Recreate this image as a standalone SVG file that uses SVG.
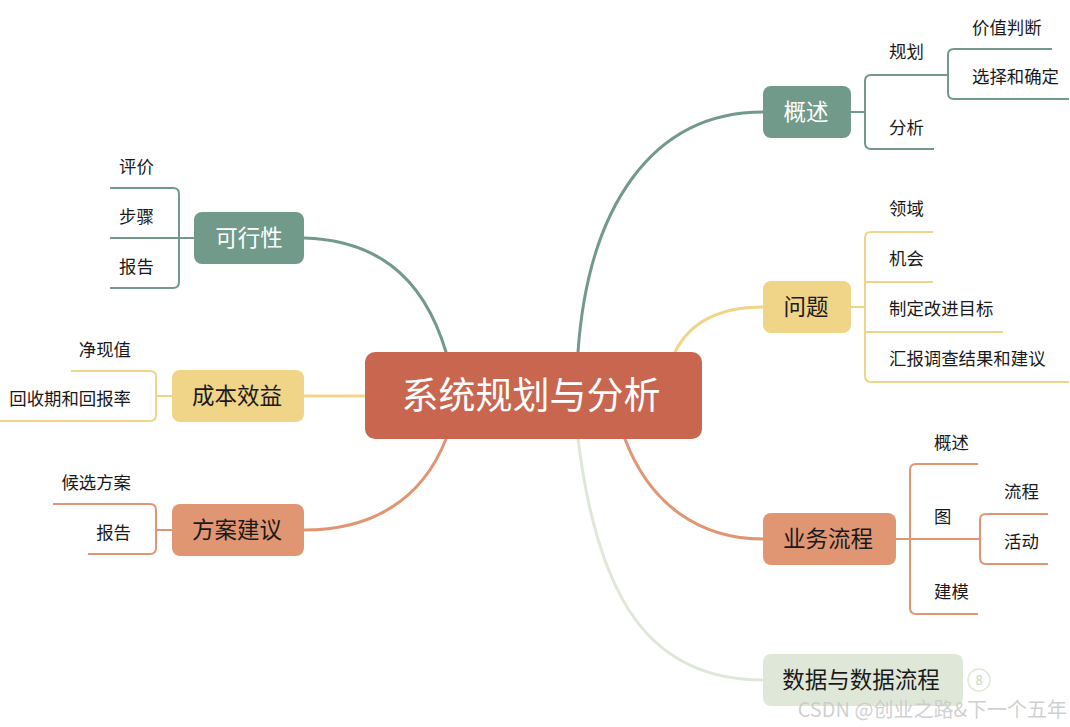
<svg xmlns="http://www.w3.org/2000/svg" width="1070" height="727" viewBox="0 0 1070 727">
<style>
text{font-family:"Noto Sans CJK SC","Noto Sans",sans-serif;}
.t{font-size:17.4px;fill:#1a1a1a;dominant-baseline:central;}
.n{font-size:22.5px;text-anchor:middle;dominant-baseline:central;}
.w{fill:#ffffff;}
.k{fill:#1a1a1a;}
.c{fill:none;stroke-width:3;stroke-linecap:round;}
.b{fill:none;stroke-width:2;}
.g{stroke:#729A8B;}
.y{stroke:#F0D488;}
.o{stroke:#E19673;}
.l{stroke:#DFE8D8;}
</style>
<rect width="1070" height="727" fill="#ffffff"/>
<g id="connectors">
<path class="c g" d="M578,352 C588,210 650,112 763,112"/>
<path class="c y" d="M675,352 C690,322 720,307 763,307"/>
<path class="c o" d="M625,439 C650,505 700,539 763,539"/>
<path class="c l" d="M578,439 C598,600 650,680 763,680"/>
<path class="c g" d="M446,352 C422,272 372,240 304,238"/>
<path class="c y" d="M304,396 L365,396"/>
<path class="c o" d="M446,439 C422,500 372,530 304,530"/>
<path class="b g" d="M851,112 H865"/>
<path class="b g" d="M934,149 H871 Q865,149 865,143 V81 Q865,75 871,75 H948"/>
<path class="b g" d="M1052,49 H954 Q948,49 948,55 V93 Q948,99 954,99 H1069"/>
<path class="b y" d="M851,307 H865"/>
<path class="b y" d="M933,232 H871 Q865,232 865,238 V376 Q865,382 871,382 H1069"/>
<path class="b y" d="M865,282 H933"/>
<path class="b y" d="M865,332 H1003"/>
<path class="b o" d="M896,539 H980"/>
<path class="b o" d="M978,464 H916 Q910,464 910,470 V608 Q910,614 916,614 H978"/>
<path class="b o" d="M1048,514 H986 Q980,514 980,520 V558 Q980,564 986,564 H1048"/>
<path class="b g" d="M110,238 H194"/>
<path class="b g" d="M110,188 H173 Q179,188 179,194 V282 Q179,288 173,288 H110"/>
<path class="b y" d="M156,396 H172"/>
<path class="b y" d="M71,371 H150 Q156,371 156,377 V415 Q156,421 150,421 H0"/>
<path class="b o" d="M156,530 H172"/>
<path class="b o" d="M53,504 H150 Q156,504 156,510 V548 Q156,554 150,554 H88"/>
</g>
<g id="root">
<rect x="365" y="352" width="337" height="87" rx="10" fill="#C8664F"/>
<text x="531" y="393" class="n w" style="font-size:37px">系统规划与分析</text>
</g>
<g id="n-gaishu">
<rect x="763" y="86" width="88" height="52" rx="8" fill="#729A8B"/>
<text x="806" y="110" class="n w">概述</text>
<text x="889" y="50" class="t">规划</text>
<text x="972" y="26" class="t">价值判断</text>
<text x="972" y="75" class="t">选择和确定</text>
<text x="889" y="126" class="t">分析</text>
</g>
<g id="n-wenti">
<rect x="763" y="281" width="88" height="52" rx="8" fill="#F0D488"/>
<text x="806" y="305" class="n k">问题</text>
<text x="889" y="207" class="t">领域</text>
<text x="889" y="257" class="t">机会</text>
<text x="889" y="307" class="t">制定改进目标</text>
<text x="889" y="357" class="t">汇报调查结果和建议</text>
</g>
<g id="n-yewu">
<rect x="763" y="513" width="133" height="52" rx="8" fill="#E19673"/>
<text x="828" y="537" class="n k">业务流程</text>
<text x="934" y="441" class="t">概述</text>
<text x="934" y="515" class="t">图</text>
<text x="1004" y="490" class="t">流程</text>
<text x="1004" y="540" class="t">活动</text>
<text x="934" y="590" class="t">建模</text>
</g>
<g id="n-shuju">
<rect x="763" y="654" width="200" height="52" rx="8" fill="#DFE8D8"/>
<text x="861" y="678" class="n k">数据与数据流程</text>
<circle cx="979" cy="680" r="11" fill="none" stroke="#DFE8D8" stroke-width="1.5"/>
<text x="979" y="679" class="n" style="font-size:13px;fill:#C9D8C4">8</text>
</g>
<g id="n-kexing">
<rect x="194" y="212" width="110" height="52" rx="8" fill="#729A8B"/>
<text x="249" y="236" class="n w">可行性</text>
<text x="119" y="165" class="t">评价</text>
<text x="119" y="215" class="t">步骤</text>
<text x="119" y="265" class="t">报告</text>
</g>
<g id="n-chengben">
<rect x="172" y="370" width="132" height="52" rx="8" fill="#F0D488"/>
<text x="237" y="394" class="n k">成本效益</text>
<text x="131" y="348" class="t" text-anchor="end">净现值</text>
<text x="131" y="397" class="t" text-anchor="end">回收期和回报率</text>
</g>
<g id="n-fangan">
<rect x="172" y="504" width="132" height="52" rx="8" fill="#E19673"/>
<text x="237" y="528" class="n k">方案建议</text>
<text x="131" y="481" class="t" text-anchor="end">候选方案</text>
<text x="131" y="531" class="t" text-anchor="end">报告</text>
</g>
<text x="1067" y="708" text-anchor="end" dominant-baseline="central" style="font-size:20px;fill:#C8C8C8;fill-opacity:0.85">CSDN @创业之路&amp;下一个五年</text>
</svg>
